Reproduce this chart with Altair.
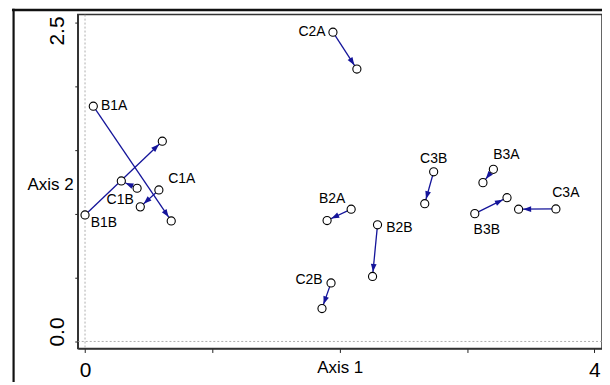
import math
import altair as alt
import pandas as pd

# ---------------- data ----------------
labels  = ["B1A", "B1B", "C1A", "C1B", "C2A", "B2A", "B2B", "C2B", "C3B", "B3A", "B3B", "C3A"]
start_x = [0.065, 0.000, 0.580, 0.409, 1.947, 2.090, 2.297, 1.932, 2.738, 3.207, 3.061, 3.698]
start_y = [1.844, 0.992, 1.188, 1.201, 2.424, 1.037, 0.914, 0.459, 1.330, 1.349, 1.002, 1.039]
end_x   = [0.677, 0.607, 0.434, 0.285, 2.135, 1.901, 2.258, 1.861, 2.668, 3.125, 3.314, 3.405]
end_y   = [0.945, 1.570, 1.055, 1.258, 2.135, 0.948, 0.510, 0.258, 1.080, 1.245, 1.127, 1.037]

x_ticks = [0, 1, 2, 3, 4]
x_tick_labels = {0: "0", 2: "Axis 1", 4: "4"}
y_ticks = [0, 0.5, 1, 1.5, 2, 2.5]
y_tick_labels = {0: "0.0", 2.5: "2.5"}
y_title = "Axis 2"

# ---------------- layout / style ----------------
W, H = 526, 335
X_DOMAIN = [-0.057, 4.06]
Y_DOMAIN = [-0.055, 2.562]
KX = W / (X_DOMAIN[1] - X_DOMAIN[0])
KY = H / (Y_DOMAIN[1] - Y_DOMAIN[0])
R = 4.6            # circle radius (px)
ARROW_LEN = 8      # arrowhead length (px)
NAVY = "#14149a"
FONT = "Liberation Sans"

# label offsets (px, screen direction) relative to the labelled point
label_offsets = {
    "B1A": (21, 0), "B1B": (19, 8), "C1A": (23, -11), "C1B": (-17, 12),
    "C2A": (-21, 0), "B2A": (-19, -10), "B2B": (22, 3), "C2B": (-22, -3),
    "C3B": (0, -13), "B3A": (13, -14), "B3B": (12, 16), "C3A": (10, -16),
}

# ---------------- tables ----------------
rows = []
for lab, sx, sy, ex, ey in zip(labels, start_x, start_y, end_x, end_y):
    dxp, dyp = (ex - sx) * KX, (ey - sy) * KY
    L = math.hypot(dxp, dyp)
    ang = math.degrees(math.atan2(dxp, dyp)) % 360
    ox, oy = label_offsets[lab]
    rows.append({
        "label": lab, "sx": sx, "sy": sy, "ex": ex, "ey": ey,
        "tipx": ex - dxp / L * R / KX, "tipy": ey - dyp / L * R / KY,
        "angle": ang,
        "lx": sx + ox / KX, "ly": sy - oy / KY,
    })
arrows = pd.DataFrame(rows)
points = pd.DataFrame({"x": start_x + end_x, "y": start_y + end_y})

xs = alt.Scale(domain=X_DOMAIN, nice=False, zero=False)
ys = alt.Scale(domain=Y_DOMAIN, nice=False, zero=False)

x_expr = " : ".join(f"datum.value == {k} ? '{v}'" for k, v in x_tick_labels.items()) + " : ''"
y_expr = " : ".join(f"datum.value == {k} ? '{v}'" for k, v in y_tick_labels.items()) + " : ''"

x_axis = alt.Axis(
    values=x_ticks, labelExpr=x_expr, title=None, grid=False,
    labelFontSize={"condition": {"test": "datum.value == 2", "value": 17}, "value": 21},
    labelBaseline="top", labelPadding=7, tickSize=4, tickColor="#222",
    domainColor="#333", domainWidth=1.5, labelColor="black", labelFont=FONT,
    labelFlush=False, labelOverlap=False, labelBound=False,
)
y_axis = alt.Axis(
    values=y_ticks, labelExpr=y_expr, title=y_title, grid=False,
    labelFontSize=21, labelAngle=270, labelAlign="center", labelBaseline="alphabetic",
    labelPadding=11, tickSize=3, tickColor="#222", domainColor="#333", domainWidth=1.5,
    labelColor="black", labelFont=FONT, labelFlush=False, labelOverlap=False, labelBound=False,
    labelOffset={"condition": {"test": "datum.value == 0", "value": -10}, "value": 8},
    titleAngle=0, titleX=-51, titleY=170, titleAlign="left", titleBaseline="middle",
    titleFontSize=17, titleFontWeight="normal", titleFont=FONT, titleColor="black",
)

def X(f):
    return alt.X(f, type="quantitative", scale=xs, axis=x_axis)

def Y(f):
    return alt.Y(f, type="quantitative", scale=ys, axis=y_axis)

zero_df = pd.DataFrame({"v": [0]})
vzero = alt.Chart(zero_df).mark_rule(color="#9a9a9a", strokeWidth=0.8, strokeDash=[2, 2]).encode(x=X("v"))
hzero = alt.Chart(zero_df).mark_rule(color="#9a9a9a", strokeWidth=0.8, strokeDash=[2, 2]).encode(y=Y("v"))

frame_top = alt.Chart(zero_df).mark_rule(color="#111", strokeWidth=2.5).encode(
    x=alt.value(-66), x2=alt.value(W + 10), y=alt.value(-4.6))
frame_left = alt.Chart(zero_df).mark_rule(color="#111", strokeWidth=2.2).encode(
    x=alt.value(-64.4), y=alt.value(-6), y2=alt.value(H + 45))

lines = alt.Chart(arrows).mark_rule(color=NAVY, strokeWidth=1.3).encode(
    x=X("sx"), y=Y("sy"), x2="ex", y2="ey")

heads = alt.Chart(arrows).mark_point(
    shape="M0,0 L0.36,1 L-0.36,1 Z", filled=True, color=NAVY, opacity=1,
    size=(2 * ARROW_LEN) ** 2,
).encode(x=X("tipx"), y=Y("tipy"), angle=alt.Angle("angle:Q", scale=None))

circles = alt.Chart(points).mark_circle(
    color="white", stroke="black", strokeWidth=1.1, opacity=1, size=math.pi * R * R
).encode(x=X("x"), y=Y("y"))

texts = alt.Chart(arrows).mark_text(
    font=FONT, fontSize=14, color="black", align="center", baseline="middle"
).encode(x=X("lx"), y=Y("ly"), text="label:N")

chart = alt.layer(vzero, hzero, lines, heads, circles, texts, frame_top, frame_left).properties(
    width=W, height=H,
    autosize=alt.AutoSizeParams(type="none"),
    padding={"left": 70, "top": 6, "right": 0, "bottom": 33},
).configure(font=FONT).configure_view(stroke="#333", strokeWidth=1.5)

chart.save("out.html", embed_options={"renderer": "svg", "actions": False})
